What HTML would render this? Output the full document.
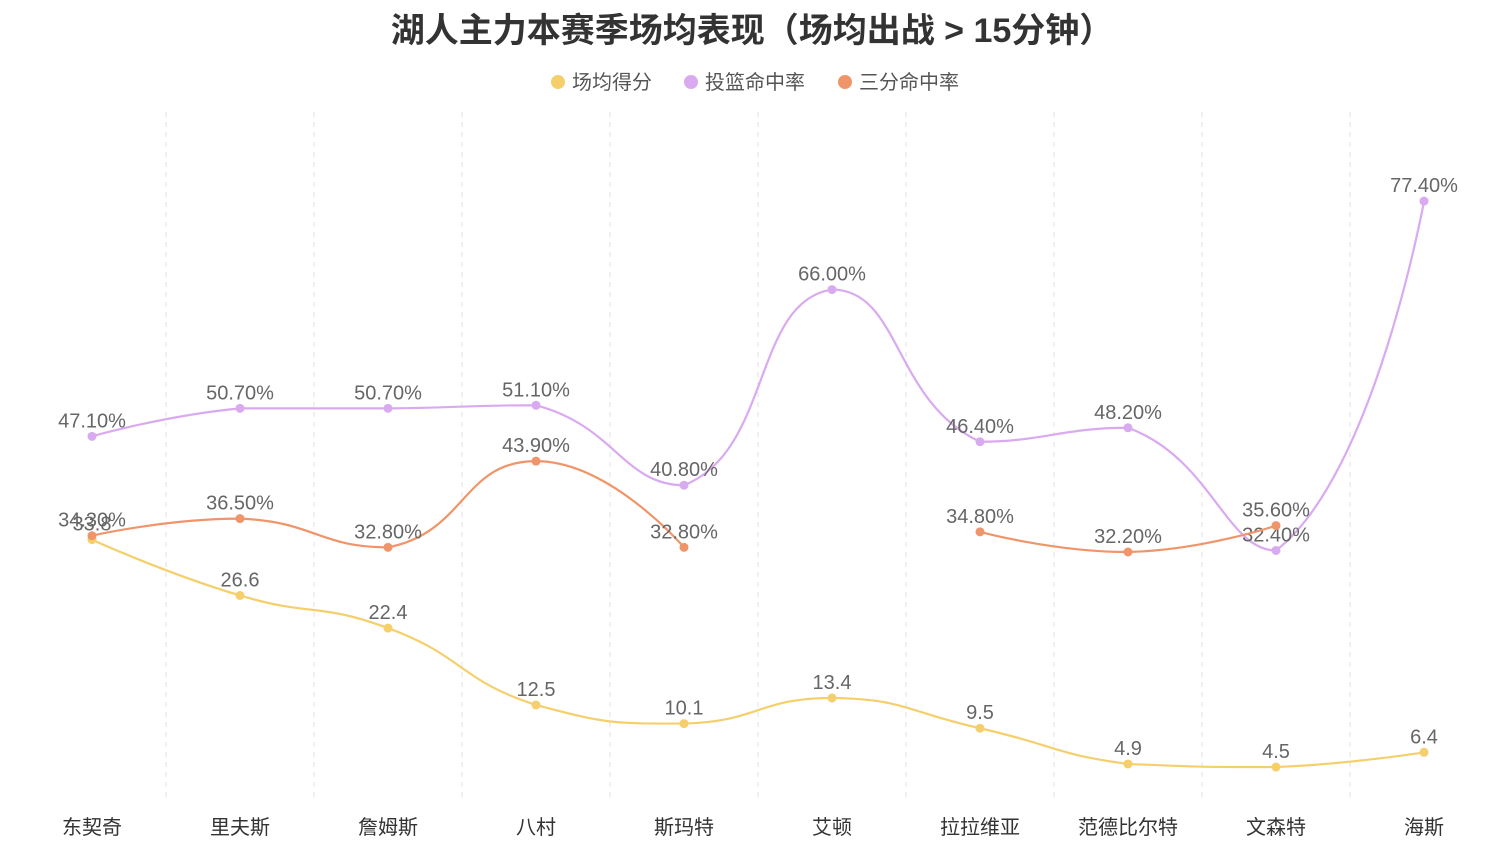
<!DOCTYPE html>
<html><head><meta charset="utf-8"><style>
body{margin:0;background:#fff;width:1512px;height:856px;overflow:hidden;font-family:"Liberation Sans","Noto Sans CJK SC",sans-serif}
</style></head><body>
<svg id="c" width="1512" height="856" xmlns="http://www.w3.org/2000/svg" font-family="Liberation Sans, Noto Sans CJK SC, sans-serif">
<text x="752" y="42" text-anchor="middle" font-size="34" font-weight="bold" fill="#333">湖人主力本赛季场均表现（场均出战 &gt; 15分钟）</text>
<g font-size="20" fill="#555">
<g><circle cx="558" cy="82" r="7" fill="#f5cf6b"/><text x="572" y="89">场均得分</text></g>
<g><circle cx="691" cy="82" r="7" fill="#d9aaf0"/><text x="705" y="89">投篮命中率</text></g>
<g><circle cx="845" cy="82" r="7" fill="#f0956a"/><text x="859" y="89">三分命中率</text></g>
</g>
<g id="plot"></g>
</svg>
<script>
const categories=["东契奇","里夫斯","詹姆斯","八村","斯玛特","艾顿","拉拉维亚","范德比尔特","文森特","海斯"];
const points=[33.8,26.6,22.4,12.5,10.1,13.4,9.5,4.9,4.5,6.4];
const fgPct=[47.1,50.7,50.7,51.1,40.8,66.0,46.4,48.2,32.4,77.4];
const threePct=[34.3,36.5,32.8,43.9,32.8,null,34.8,32.2,35.6,null];
const NS="http://www.w3.org/2000/svg";
const g=document.getElementById('plot');
const left=18,band=148,y0=802,k=7.764;
const xs=i=>left+band*(i+0.5);
const ys=v=>y0-v*k;
function mk(t,a,p){const e=document.createElementNS(NS,t);for(const n in a)e.setAttribute(n,a[n]);(p||g).appendChild(e);return e;}
for(let i=1;i<categories.length;i++){
 const l=mk('line',{x1:left+band*i,x2:left+band*i,y1:112,y2:800,stroke:'#e0e0e0','stroke-dasharray':'5,5'});
 
 
}
categories.forEach((c,i)=>{
 const t=mk('text',{x:xs(i),y:834,'text-anchor':'middle','font-size':20,fill:'#333'});t.textContent=c;
 
 
});
function clamp(v,a,b){const lo=Math.min(a,b),hi=Math.max(a,b);return Math.max(lo,Math.min(hi,v));}
function smoothPath(pts){
 const s=0.5,n=pts.length;
 const cpPrev=[],cpNext=[];
 for(let i=0;i<n;i++){
  const p=pts[i],pr=pts[i-1],nx=pts[i+1];
  if(!pr||!nx){cpPrev[i]=p.slice();cpNext[i]=p.slice();continue;}
  const vx=nx[0]-pr[0],vy=nx[1]-pr[1];
  const d1=Math.hypot(p[0]-pr[0],p[1]-pr[1]),d2=Math.hypot(nx[0]-p[0],nx[1]-p[1]);
  const r1=d1/(d1+d2),r2=d2/(d1+d2);
  let a=[p[0]-vx*s*r1,p[1]-vy*s*r1],b=[p[0]+vx*s*r2,p[1]+vy*s*r2];
  a[1]=clamp(a[1],p[1],pr[1]);b[1]=clamp(b[1],p[1],nx[1]);
  cpPrev[i]=a;cpNext[i]=b;
 }
 let d=`M${pts[0][0]},${pts[0][1]}`;
 for(let i=0;i<n-1;i++){
  const c1=cpNext[i],c2=cpPrev[i+1],p2=pts[i+1];
  d+=` C${c1[0]},${c1[1]} ${c2[0]},${c2[1]} ${p2[0]},${p2[1]}`;
 }
 return d;
}
function series(vals,color,name,fmt){
 const grp=mk('g',{});
 
 
 let seg=[];
 const segs=[];
 vals.forEach((v,i)=>{if(v==null){if(seg.length)segs.push(seg);seg=[];}else seg.push([xs(i),ys(v)]);});
 if(seg.length)segs.push(seg);
 segs.forEach(sg=>{if(sg.length>1){const p=mk('path',{d:smoothPath(sg),fill:'none',stroke:color,'stroke-width':2.2},grp);
  
  }});
 vals.forEach((v,i)=>{if(v==null)return;
  const c=mk('circle',{cx:xs(i),cy:ys(v),r:4.5,fill:color},grp);
  
  
  const t=mk('text',{x:xs(i),y:ys(v)-9,'text-anchor':'middle','font-size':20,fill:'#666'},grp);t.textContent=fmt(v);
  
  
 });
}
series(points,'#f5cf6b','points',v=>String(v));
series(fgPct,'#d9aaf0','fg-pct',v=>v.toFixed(2)+'%');
series(threePct,'#f0956a','three-pct',v=>v.toFixed(2)+'%');
</script>
</body></html>
